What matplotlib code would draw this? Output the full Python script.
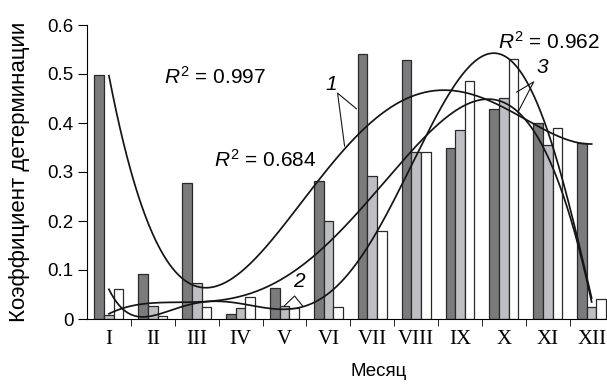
import numpy as np
import matplotlib.pyplot as plt

plt.rcParams['font.family'] = ['Liberation Sans', 'DejaVu Sans']
plt.rcParams['mathtext.fontset'] = 'custom'
plt.rcParams['mathtext.it'] = 'Liberation Sans:italic'
plt.rcParams['mathtext.rm'] = 'Liberation Sans'

# --- data ---
months = ['I', 'II', 'III', 'IV', 'V', 'VI', 'VII', 'VIII', 'IX', 'X', 'XI', 'XII']
series1 = [0.498, 0.092, 0.278, 0.010, 0.063, 0.282, 0.541, 0.529, 0.349, 0.428, 0.400, 0.359]
series2 = [0.008, 0.027, 0.073, 0.023, 0.027, 0.200, 0.292, 0.340, 0.386, 0.451, 0.355, 0.025]
series3 = [0.061, 0.007, 0.025, 0.045, 0.023, 0.025, 0.180, 0.340, 0.486, 0.531, 0.390, 0.041]

# polynomial trend line degree for each series (gives R2 ~ 0.684 / 0.962 / 0.997)
trend_deg = [4, 5, 6]

colors = ['#7b7b7e', '#bebfc3', '#ffffff']
edge = '#2a2a2a'

x = np.arange(1, len(months) + 1)
bw = 0.22

fig = plt.figure(figsize=(6.07, 3.84), dpi=100)
ax = fig.add_axes([87 / 607, 1 - 319 / 384, 1 - 87 / 607, (319 - 25) / 384])

for i, (vals, c) in enumerate(zip([series1, series2, series3], colors)):
    ax.bar(x + (i - 1) * bw, vals, bw, color=c, edgecolor=edge, linewidth=0.9, zorder=2)
    # trend line, same as the spreadsheet polynomial fit
    p = np.polyfit(x, vals, trend_deg[i])
    xs = np.linspace(1, 12, 400)
    ax.plot(xs, np.polyval(p, xs), color='#151515', lw=1.25, zorder=3)

ax.set_xlim(0.5, 12.35)
ax.set_ylim(0, 0.6)
ax.set_yticks([0, 0.1, 0.2, 0.3, 0.4, 0.5, 0.6])
ax.set_yticklabels(['0', '0.1', '0.2', '0.3', '0.4', '0.5', '0.6'], fontsize=13.5)
ax.set_xticks(x)
ax.set_xticklabels(months, family='Liberation Serif', fontsize=15)
ax.set_xticks(np.arange(1.5, 12, 1), minor=True)
ax.tick_params(axis='x', which='major', length=0, pad=8)
ax.tick_params(axis='x', which='minor', length=5, direction='out')
ax.tick_params(axis='y', length=6.5, direction='out', pad=3)
for s in ['top', 'right']:
    ax.spines[s].set_visible(False)

ax.set_xlabel('Месяц', fontsize=13.5)
ax.xaxis.label.set_va('center')
ax.xaxis.set_label_coords(0.56, -0.18)
ax.set_ylabel('Коэффициент детерминации', fontsize=16)
ax.yaxis.label.set_va('center')
ax.yaxis.set_label_coords(-0.129, 0.5)

# annotations
ax.text(2.26, 0.494, r'$R^2$ = 0.997', fontsize=15, va='center')
ax.text(3.40, 0.324, r'$R^2$ = 0.684', fontsize=15, va='center')
ax.text(9.86, 0.565, r'$R^2$ = 0.962', fontsize=15, va='center')
ax.text(6.07, 0.478, '1', fontsize=15, style='italic', va='center', ha='center')
ax.text(5.34, 0.076, '2', fontsize=15, style='italic', va='center', ha='center')
ax.text(10.87, 0.514, '3', fontsize=15, style='italic', va='center', ha='center')
lk = dict(color='#151515', lw=0.8, zorder=4)
ax.plot([6.64, 6.21, 6.37], [0.429, 0.461, 0.353], **lk)
ax.plot([5.0, 5.23, 5.41], [0.027, 0.047, 0.027], **lk)
ax.plot([10.29, 10.68, 10.32], [0.463, 0.484, 0.422], **lk)

fig.savefig('out.png', dpi=100)
